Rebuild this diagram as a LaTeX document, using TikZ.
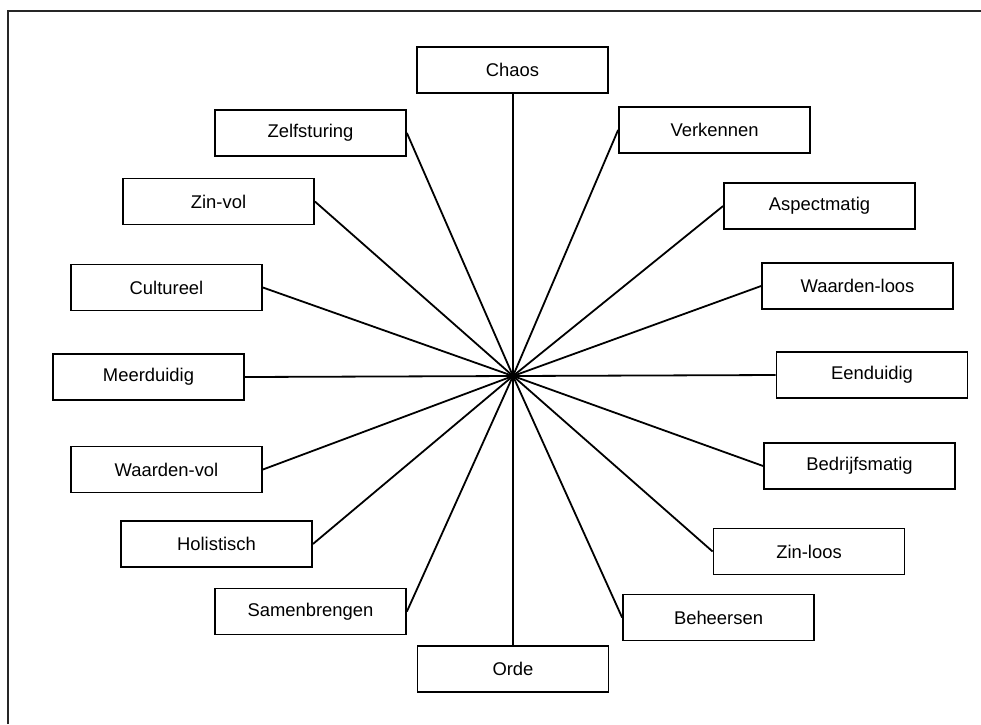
\documentclass[tikz,border=0pt]{standalone}
\usepackage{fontspec}
\setmainfont{Liberation Sans}
\begin{document}
\begin{tikzpicture}[x=1pt,y=-1pt,
  lbl/.style={draw=black, line width=1.8pt, fill=white, rectangle, minimum width=191pt, minimum height=46pt, inner sep=0pt, font=\fontsize{18.4}{22}\selectfont},
  spoke/.style={line width=1.8pt}]
\useasboundingbox (0,0) rectangle (981,724);
\draw[line width=1.8pt, black!85] (8,724) -- (8,11) -- (981,11);
\coordinate (hub) at (513,376);
\node[lbl] (chaos) at (512.5,70) {Chaos};
\node[lbl] (verk) at (714.5,130) {Verkennen};
\node[lbl] (zelf) at (310.5,133) {Zelfsturing};
\node[lbl] (zinvol) at (218.5,201.5) {Zin-vol};
\node[lbl] (aspect) at (819.5,206) {Aspectmatig};
\node[lbl] (cult) at (166.5,287.5) {Cultureel};
\node[lbl] (wloos) at (857.5,286) {Waarden-loos};
\node[lbl] (meer) at (148.5,377) {Meerduidig};
\node[lbl] (een) at (872,375) {Eenduidig};
\node[lbl] (wvol) at (166.5,469.5) {Waarden-vol};
\node[lbl] (bedr) at (859.5,466) {Bedrijfsmatig};
\node[lbl] (holi) at (216.5,544) {Holistisch};
\node[lbl] (zinloos) at (809,551.5) {Zin-loos};
\node[lbl] (samen) at (310.5,611.5) {Samenbrengen};
\node[lbl] (behe) at (718.5,617.5) {Beheersen};
\node[lbl] (orde) at (513,669) {Orde};
\draw[spoke] (hub) -- (hub |- chaos.south);
\draw[spoke] (hub) -- (hub |- orde.north);
\foreach \n in {verk,aspect,wloos,een,bedr,zinloos,behe} \draw[spoke] (hub) -- (\n.west);
\foreach \n in {zelf,zinvol,cult,meer,wvol,holi,samen} \draw[spoke] (hub) -- (\n.east);
\end{tikzpicture}
\end{document}
